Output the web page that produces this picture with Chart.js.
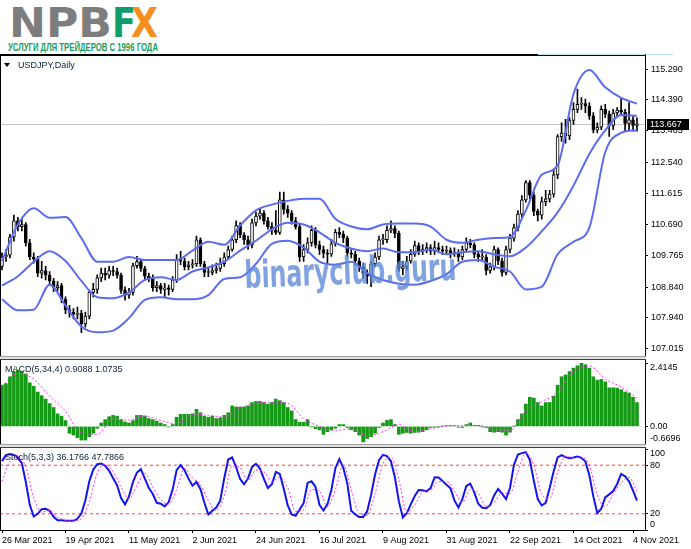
<!DOCTYPE html>
<html><head><meta charset="utf-8">
<script src="https://cdn.jsdelivr.net/npm/chart.js@4.4.0/dist/chart.umd.min.js"></script>
<style>
html,body{margin:0;padding:0;background:#fff;}
#wrap{position:relative;width:691px;height:549px;overflow:hidden;background:#fff;font-family:"Liberation Sans",Arial,sans-serif;}
canvas{position:absolute;left:0;}
.abs{position:absolute;}
.lbl{position:absolute;font-size:9px;color:#000;white-space:nowrap;line-height:10px;}
</style></head><body>
<div id="wrap">
<svg class="abs" style="left:0;top:0" width="200" height="54">
  <text x="9" y="37" font-family="DejaVu Sans" font-weight="bold" font-size="40" textLength="103" lengthAdjust="spacingAndGlyphs" fill="#7d7d7d">NPB</text>
  <text x="112" y="37" font-family="DejaVu Sans" font-weight="bold" font-size="40" textLength="24" lengthAdjust="spacingAndGlyphs" fill="#0f9d6b">F</text>
  <text x="131" y="37" font-family="DejaVu Sans" font-weight="bold" font-size="40" textLength="27" lengthAdjust="spacingAndGlyphs" fill="#f5901e">X</text>
  <text x="8" y="50.5" font-family="Liberation Sans" font-weight="bold" font-size="11" textLength="150" lengthAdjust="spacingAndGlyphs" fill="#149c62">УСЛУГИ ДЛЯ ТРЕЙДЕРОВ С 1996 ГОДА</text>
</svg>
<canvas id="cMain" style="top:55px;width:691px;height:304px" width="691" height="304"></canvas>
<canvas id="cMacd" style="top:363px;width:691px;height:81px" width="691" height="81"></canvas>
<canvas id="cStoch" style="top:449px;width:691px;height:100px" width="691" height="100"></canvas>
<div class="abs" style="left:0;top:54px;width:646px;height:2px;background:#000"></div>
<div class="abs" style="left:538px;top:54px;width:135px;height:1px;background:#bfe3ef"></div>
<div class="abs" style="left:0;top:54px;width:1px;height:476px;background:#000"></div>
<div class="abs" style="left:645px;top:54px;width:1px;height:476px;background:#000"></div>
<div class="abs" style="left:0;top:356px;width:646px;height:1px;background:#a0a0a0"></div>
<div class="abs" style="left:0;top:357px;width:646px;height:2px;background:#e0e0e0"></div>
<div class="abs" style="left:0;top:359px;width:646px;height:1px;background:#404040"></div>
<div class="abs" style="left:0;top:444px;width:646px;height:1px;background:#a0a0a0"></div>
<div class="abs" style="left:0;top:445px;width:646px;height:2px;background:#e0e0e0"></div>
<div class="abs" style="left:0;top:447px;width:646px;height:1px;background:#404040"></div>
<div class="abs" style="left:4px;top:63px;width:0;height:0;border-left:3.5px solid transparent;border-right:3.5px solid transparent;border-top:4px solid #000"></div>
<div class="lbl" id="tMain" style="left:18px;top:60px;color:#0d1f33">USDJPY,Daily</div>
<div class="lbl" id="tMacd" style="left:5px;top:364px;color:#0d1f33"></div>
<div class="lbl" id="tStoch" style="left:5px;top:452px;color:#0d1f33"></div>
<svg class="abs" style="left:0;top:0;pointer-events:none" width="691" height="549">
  <text x="245" y="288" transform="rotate(-2.2 245 288)" font-family="DejaVu Sans" font-weight="bold" font-size="38" textLength="212" lengthAdjust="spacingAndGlyphs" fill="#5e88d8" fill-opacity="0.78">binaryclub.guru</text>
</svg>
</div>
<script>
// ---- data ----
const dateIdx = [0,16,32,48,64,80,96,112,128,144,159];
const dateLabels = ['26 Mar 2021','19 Apr 2021','11 May 2021','2 Jun 2021','24 Jun 2021','16 Jul 2021','9 Aug 2021','31 Aug 2021','22 Sep 2021','14 Oct 2021','4 Nov 2021'];
const priceTicks = [107.015,107.940,108.840,109.765,110.690,111.615,112.540,113.465,114.390,115.290];

const opens = [109.45,109.73,109.78,110.32,110.80,110.63,110.69,110.15,109.73,109.67,
109.25,109.33,109.19,109.02,108.82,108.88,108.48,108.17,108.09,108.03,
108.06,107.75,107.98,108.68,108.77,109.11,109.25,109.19,109.33,109.30,
109.19,108.74,108.60,108.68,109.47,109.59,109.39,109.16,109.11,108.82,
108.88,108.77,108.82,108.77,109.05,109.67,109.61,109.44,109.50,109.53,
110.24,109.53,109.27,109.27,109.33,109.39,109.53,109.73,109.95,110.24,
110.66,110.38,110.24,110.09,110.74,110.94,111.03,110.80,110.63,110.52,
110.46,111.42,111.14,111.03,110.80,110.63,109.73,109.95,110.15,110.52,
110.09,109.95,109.84,109.81,110.12,110.46,110.40,110.29,109.84,109.81,
109.61,109.44,109.25,109.16,109.53,109.73,110.24,110.24,110.52,110.57,
110.43,109.39,109.44,109.61,109.81,110.07,109.90,109.95,110.01,109.90,
110.01,109.95,109.90,109.92,109.84,109.87,109.73,109.95,110.15,110.09,
109.81,109.73,109.73,109.33,109.44,109.95,109.61,109.27,109.95,110.29,
110.60,111.00,111.42,111.93,111.56,111.08,110.97,111.37,111.45,111.59,
112.16,113.29,113.40,113.31,113.77,114.10,114.25,114.27,114.19,113.91,
113.48,113.57,114.10,113.96,113.62,113.99,114.08,114.02,113.68,113.79,
113.62];
const closes = [109.73,109.78,110.32,110.80,110.63,110.69,110.15,109.73,109.67,109.25,
109.33,109.19,109.02,108.82,108.88,108.48,108.17,108.09,108.03,108.06,
107.75,107.98,108.68,108.77,109.11,109.25,109.19,109.33,109.30,109.19,
108.74,108.60,108.68,109.47,109.59,109.39,109.16,109.11,108.82,108.88,
108.77,108.82,108.77,109.05,109.67,109.61,109.44,109.50,109.53,110.24,
109.53,109.27,109.27,109.33,109.39,109.53,109.73,109.95,110.24,110.66,
110.38,110.24,110.09,110.74,110.94,111.03,110.80,110.63,110.52,110.46,
111.42,111.14,111.03,110.80,110.63,109.73,109.95,110.15,110.52,110.09,
109.95,109.84,109.81,110.12,110.46,110.40,110.29,109.84,109.81,109.61,
109.44,109.25,109.16,109.53,109.73,110.24,110.24,110.52,110.57,110.43,
109.39,109.44,109.61,109.81,110.07,109.90,109.95,110.01,109.90,110.01,
109.95,109.90,109.92,109.84,109.87,109.73,109.95,110.15,110.09,109.81,
109.73,109.73,109.33,109.44,109.95,109.61,109.27,109.95,110.29,110.60,
111.00,111.42,111.93,111.56,111.08,110.97,111.37,111.45,111.59,112.16,
113.29,113.40,113.31,113.77,114.10,114.25,114.27,114.19,113.91,113.48,
113.57,114.10,113.96,113.62,113.99,114.08,114.02,113.68,113.79,113.62,
113.667];
const highs = [109.85,109.95,110.40,110.97,110.90,110.85,110.75,110.25,109.85,109.75,
109.60,109.45,109.30,109.10,109.00,108.95,108.55,108.30,108.20,108.25,
108.15,108.10,108.75,108.95,109.20,109.40,109.40,109.45,109.45,109.40,
109.25,108.85,108.80,109.55,109.75,109.65,109.45,109.25,109.20,109.00,
108.95,108.95,108.90,109.15,109.80,109.90,109.70,109.60,109.65,110.35,
110.30,109.60,109.40,109.50,109.55,109.70,109.85,110.05,110.35,110.80,
110.75,110.45,110.35,110.85,111.05,111.15,111.10,110.90,110.75,111.10,
111.65,111.65,111.25,111.10,110.90,110.70,110.10,110.30,110.65,110.60,
110.20,110.05,109.95,110.25,110.55,110.60,110.50,110.35,109.95,109.90,
109.70,109.55,109.35,109.60,109.85,110.35,110.40,110.65,110.80,110.65,
110.50,109.60,109.75,109.95,110.20,110.15,110.10,110.15,110.10,110.20,
110.15,110.05,110.05,110.00,110.00,109.95,110.05,110.30,110.25,110.15,
109.90,109.95,109.80,109.55,110.05,110.00,109.70,110.05,110.40,110.70,
111.10,111.55,111.99,111.99,111.65,111.15,111.50,111.70,111.70,112.30,
113.35,113.70,113.80,113.85,114.30,114.70,114.45,114.40,114.30,114.00,
113.70,114.20,114.25,114.05,114.10,114.15,114.45,114.10,114.30,113.90,
113.85];
const lows = [109.35,109.60,109.70,110.20,110.50,110.50,110.05,109.65,109.55,109.15,
109.10,109.05,108.90,108.70,108.72,108.38,108.05,107.95,107.90,107.90,
107.49,107.65,107.90,108.55,108.65,109.00,109.05,109.10,109.18,109.10,
108.65,108.45,108.50,108.60,109.40,109.30,109.05,109.00,108.72,108.70,
108.65,108.55,108.60,108.70,108.98,109.50,109.35,109.35,109.40,109.45,
109.45,109.15,109.15,109.20,109.25,109.30,109.45,109.65,109.90,110.15,
110.30,110.10,109.95,110.00,110.65,110.85,110.70,110.55,110.40,110.40,
110.40,111.00,110.90,110.70,110.55,109.60,109.60,109.85,110.05,110.00,
109.80,109.70,109.55,109.75,110.05,110.30,110.15,109.75,109.70,109.50,
109.30,109.10,108.95,108.85,109.45,109.65,110.10,110.15,110.45,110.30,
109.30,109.20,109.35,109.55,109.75,109.80,109.80,109.85,109.80,109.80,
109.85,109.80,109.80,109.70,109.75,109.60,109.65,109.90,110.00,109.70,
109.60,109.60,109.20,109.25,109.35,109.50,109.16,109.20,109.85,110.20,
110.50,110.90,111.35,111.45,110.95,110.80,110.85,111.25,111.35,111.50,
112.05,113.15,113.10,113.20,113.65,114.00,114.10,114.00,113.80,113.40,
113.40,113.50,113.85,113.30,113.50,113.90,113.95,113.45,113.50,113.45,
113.45];
// Bollinger bands, one reading every 4th bar
const bbUpper = [109.61,110.69,111.17,110.89,110.91,110.29,109.59,109.59,109.73,109.64,109.64,109.64,109.92,110.18,110.09,110.66,111.11,111.28,111.39,111.45,111.45,110.86,110.63,110.55,110.69,110.72,110.72,110.63,110.24,110.15,110.24,110.29,110.32,111.11,112.16,112.44,114.55,115.26,114.75,114.44,114.27];
const bbMiddle = [108.88,109.16,109.59,109.90,109.61,109.02,108.54,108.51,108.68,109.05,109.13,109.05,109.30,109.42,109.59,109.92,110.21,110.55,110.74,110.69,110.46,110.15,109.98,109.90,109.98,109.87,109.87,109.95,109.81,109.87,109.90,109.81,109.75,110.01,110.49,111.05,111.84,112.78,113.48,113.93,113.91];
const bbLower = [108.48,108.15,108.17,108.91,108.29,107.67,107.50,107.55,107.92,108.46,108.54,108.48,108.48,108.60,109.08,109.13,109.53,110.12,110.21,110.01,109.59,109.50,109.59,109.25,109.05,108.94,108.91,109.02,109.22,109.59,109.64,109.44,109.30,108.77,108.85,109.81,110.18,110.60,112.83,113.40,113.48];
const BB_STEP = 4;

const macd = [1.57,1.63,1.89,2.09,2.13,2.09,2.00,1.66,1.53,1.31,
1.17,1.04,0.87,0.72,0.48,0.39,0.22,-0.26,-0.33,-0.43,
-0.52,-0.52,-0.39,-0.26,-0.07,0.13,0.26,0.37,0.42,0.39,
0.26,0.17,0.13,0.22,0.42,0.42,0.39,0.30,0.26,0.20,
0.13,0.07,-0.02,0.07,0.35,0.46,0.46,0.46,0.48,0.65,
0.52,0.39,0.35,0.39,0.30,0.33,0.42,0.52,0.78,0.74,
0.74,0.74,0.78,0.91,0.95,0.95,0.91,0.85,0.91,1.04,
0.98,0.91,0.72,0.59,0.26,0.16,0.16,0.26,-0.01,-0.09,
-0.13,-0.30,-0.20,-0.13,-0.07,0.07,0.07,-0.04,-0.13,-0.20,
-0.33,-0.59,-0.46,-0.39,-0.26,-0.04,0.13,0.23,0.26,0.07,
-0.30,-0.26,-0.23,-0.26,-0.23,-0.22,-0.20,-0.13,-0.04,-0.03,
-0.01,0.01,0.03,0.03,0.03,-0.03,-0.04,0.07,0.13,0.04,
0.04,-0.01,-0.04,-0.20,-0.22,-0.20,-0.22,-0.33,-0.22,0.01,
0.26,0.48,0.85,1.11,1.08,0.91,0.78,0.91,0.91,1.15,
1.57,1.89,1.96,2.09,2.22,2.31,2.4145,2.35,2.22,1.89,
1.76,1.79,1.70,1.47,1.47,1.46,1.40,1.31,1.27,1.11,
0.9088];
// MACD signal, one reading every 4th bar
const macdSignal = [1.53,2.02,1.80,1.15,0.58,-0.25,-0.30,0.28,0.24,0.40,0.22,0.10,0.47,0.42,0.36,0.70,0.88,0.92,0.88,0.30,0.00,-0.15,-0.10,-0.36,-0.20,0.07,-0.21,-0.09,0.01,0.03,0.04,-0.12,-0.15,0.60,0.94,1.30,2.10,2.30,1.80,1.50,1.0735];
const MACD_STEP = 4;
const macdTicks = [2.4145, 0, -0.6696];
const macdTickText = ['2.4145','0.00','-0.6696'];

const stochMain = [85.0,92.4,93.7,92.8,89.1,82.5,59.3,31.1,16.7,20.0,
25.8,26.2,23.7,16.2,12.1,12.1,11.3,11.3,11.3,13.8,
20.4,36.5,60.1,74.6,81.2,82.1,79.2,73.0,63.9,55.2,
39.4,31.6,41.5,59.3,70.9,75.0,63.4,51.8,44.4,33.6,
32.4,29.1,34.5,50.2,73.8,80.0,73.8,63.4,54.7,59.3,
50.6,33.6,19.1,23.7,27.8,36.5,63.9,87.0,89.5,77.5,
63.0,56.4,63.9,77.9,81.7,75.9,63.0,51.8,56.4,71.7,
69.2,51.0,30.3,19.1,17.5,25.4,33.2,58.1,60.1,53.1,
31.1,24.1,31.6,49.8,76.3,87.5,76.7,
57.6,23.7,19.1,16.2,16.2,22.9,43.2,68.4,86.2,92.8,
91.2,85.0,65.1,35.3,15.4,20.8,31.6,41.9,49.4,49.0,
47.7,51.8,65.1,64.7,60.5,56.0,51.4,36.5,27.8,38.2,
54.3,57.2,46.5,32.4,27.4,27.0,30.7,42.7,50.6,44.8,
38.2,51.8,80.4,93.2,94.9,96.1,86.2,61.0,38.2,30.3,
33.6,51.8,72.1,89.5,92.4,89.9,88.7,89.5,90.8,89.1,
84.6,67.6,41.5,20.8,26.2,40.3,44.0,48.1,56.8,69.2,
66.3,60.1,48.5,36.1766];
// Stochastic signal, one reading every 2nd bar
const stochSignal = [60,85,91,78,40,22,24,16,12,11,
14,35,70,81,72,53,38,55,70,53,
37,32,50,76,64,56,36,24,42,79,
77,61,74,72,60,65,52,23,25,50,
48,29,50,80,50,20,18,45,82,90,
62,22,31,47,49,60,60,48,34,50,
46,29,34,46,45,72,95,80,44,39,
71,91,89,90,80,43,29,44,58,65,
47.7866];
const STOCH_STEP = 2;
const stochLevels = [80, 20];
const stochTicks = [100, 80, 20, 0];

// ---- charts ----
Chart.defaults.font.family = '"Liberation Sans", Arial, sans-serif';
Chart.defaults.font.size = 9;
Chart.defaults.color = '#000';
const X_MIN = -0.504, X_MAX = 162.02;
const BB_COLOR = '#5b6cf0';

const baseOpts = () => ({
  responsive:false, animation:false, events:[],
  plugins:{legend:{display:false}, tooltip:{enabled:false}},
  layout:{padding:0},
});
const xHidden = {type:'linear', min:X_MIN, max:X_MAX, offset:false, display:false};

const insetLabels = {
  id:'insetLabels',
  afterDraw(chart, args, opts){
    if(!opts || !opts.items) return;
    const s = chart.scales.y, a = chart.chartArea, ctx = chart.ctx;
    ctx.save();
    ctx.font = '9px "Liberation Sans", Arial, sans-serif';
    ctx.fillStyle = '#000'; ctx.textBaseline = 'middle'; ctx.textAlign = 'left';
    opts.items.forEach(([v,t]) => {
      let py = s.getPixelForValue(v);
      py = Math.min(Math.max(py, a.top + 5), a.bottom - 5);
      ctx.fillText(t, a.right + 5, py);
    });
    ctx.restore();
  }
};

const lastClose = closes[closes.length-1];
const priceLine = {
  id:'priceLine',
  beforeDatasetsDraw(chart){
    const a = chart.chartArea, ctx = chart.ctx;
    const py = Math.round(chart.scales.y.getPixelForValue(lastClose)) + 0.5;
    ctx.save(); ctx.strokeStyle = '#c4c4c4'; ctx.lineWidth = 1;
    ctx.beginPath(); ctx.moveTo(a.left, py); ctx.lineTo(a.right, py); ctx.stroke();
    ctx.restore();
  },
  afterDraw(chart){
    const a = chart.chartArea, ctx = chart.ctx;
    const py = chart.scales.y.getPixelForValue(lastClose);
    ctx.save();
    ctx.fillStyle = '#000';
    ctx.fillRect(a.right + 2, Math.round(py) - 5, 42, 11);
    ctx.fillStyle = '#fff';
    ctx.font = '9px "Liberation Sans", Arial, sans-serif';
    ctx.textBaseline = 'middle'; ctx.textAlign = 'left';
    ctx.fillText(lastClose.toFixed(3), a.right + 5, Math.round(py) + 0.5);
    ctx.restore();
  }
};

new Chart(document.getElementById('cMain'), {
  type:'bar',
  data:{datasets:[
    {type:'line', data:bbUpper.map((v,k)=>({x:k*BB_STEP,y:v})), borderColor:BB_COLOR, borderWidth:2, pointRadius:0, cubicInterpolationMode:'monotone', order:0},
    {type:'line', data:bbMiddle.map((v,k)=>({x:k*BB_STEP,y:v})), borderColor:BB_COLOR, borderWidth:2, pointRadius:0, cubicInterpolationMode:'monotone', order:0},
    {type:'line', data:bbLower.map((v,k)=>({x:k*BB_STEP,y:v})), borderColor:BB_COLOR, borderWidth:2, pointRadius:0, cubicInterpolationMode:'monotone', order:0},
    {type:'bar', data:closes.map((c,i)=>({x:i,y:[opens[i],c]})), backgroundColor:closes.map((c,i)=>c>=opens[i]?'#ffffff':'#000000'), borderColor:'#000', borderWidth:1, borderSkipped:false, barThickness:3, minBarLength:1, grouped:false, order:1},
    {type:'bar', data:closes.map((c,i)=>({x:i,y:[lows[i],highs[i]]})), backgroundColor:'#000', barThickness:1, grouped:false, order:2},
  ]},
  options:Object.assign(baseOpts(), {
    layout:{padding:{bottom:3}},
    scales:{
      x:xHidden,
      y:{type:'linear', position:'right', min:106.959, max:115.459,
        afterBuildTicks:s=>{s.ticks = priceTicks.map(v=>({value:v}));},
        afterFit:s=>{s.width = 46;},
        ticks:{callback:v=>Number(v).toFixed(3), padding:3, autoSkip:false, color:'#000', font:{size:9}},
        grid:{drawOnChartArea:false, drawTicks:true, tickLength:3, color:'#000'},
        border:{display:true, color:'#000'}}
    }
  }),
  plugins:[priceLine]
});

new Chart(document.getElementById('cMacd'), {
  type:'bar',
  data:{datasets:[
    {type:'line', data:macdSignal.map((v,k)=>({x:k*MACD_STEP,y:v})), borderColor:'#ff30ff', borderWidth:1, borderDash:[2,2], pointRadius:0, cubicInterpolationMode:'monotone', order:0},
    {type:'bar', data:macd.map((v,i)=>({x:i,y:v})), backgroundColor:'#149a14', barThickness:3, grouped:false, order:1},
  ]},
  options:Object.assign(baseOpts(), {
    plugins:{legend:{display:false}, tooltip:{enabled:false}, insetLabels:{items:macdTicks.map((v,i)=>[v,macdTickText[i]])}},
    scales:{
      x:xHidden,
      y:{type:'linear', position:'right', min:-0.6696, max:2.4145,
        afterBuildTicks:s=>{s.ticks = macdTicks.map(v=>({value:v}));},
        afterFit:s=>{s.width = 46;},
        ticks:{display:false},
        grid:{drawOnChartArea:false, drawTicks:true, tickLength:3, color:'#000'},
        border:{display:true, color:'#000'}}
    }
  }),
  plugins:[insetLabels]
});

new Chart(document.getElementById('cStoch'), {
  type:'line',
  data:{datasets:[
    ...stochLevels.map(l=>({type:'line', data:[{x:X_MIN,y:l},{x:X_MAX,y:l}], borderColor:'#ff4040', borderWidth:1, borderDash:[3,3], pointRadius:0, order:3})),
    {type:'line', data:stochMain.map((v,i)=>({x:i,y:v})), borderColor:'#1414f0', borderWidth:2, pointRadius:0, tension:0, order:2},
    {type:'line', data:stochSignal.map((v,k)=>({x:k*STOCH_STEP,y:v})), borderColor:'#ff30ff', borderWidth:1, borderDash:[2,2], pointRadius:0, cubicInterpolationMode:'monotone', order:1},
  ]},
  options:Object.assign(baseOpts(), {
    plugins:{legend:{display:false}, tooltip:{enabled:false}, insetLabels:{items:stochTicks.map(v=>[v,String(v)])}},
    scales:{
      x:{type:'linear', min:X_MIN, max:X_MAX, offset:false, position:'bottom',
        afterBuildTicks:s=>{s.ticks = dateIdx.map(v=>({value:v}));},
        afterFit:s=>{s.height = 19;},
        ticks:{callback:(v,i)=>dateLabels[i], align:'start', autoSkip:false, maxRotation:0, minRotation:0, padding:2, color:'#000', font:{size:9}},
        grid:{drawOnChartArea:false, drawTicks:true, tickLength:3, color:'#000'},
        border:{display:true, color:'#000'}},
      y:{type:'linear', position:'right', min:0, max:100,
        afterBuildTicks:s=>{s.ticks = stochTicks.map(v=>({value:v}));},
        afterFit:s=>{s.width = 46;},
        ticks:{display:false},
        grid:{drawOnChartArea:false, drawTicks:true, tickLength:3, color:'#000'},
        border:{display:true, color:'#000'}}
    }
  }),
  plugins:[insetLabels]
});

document.getElementById('tMacd').textContent = 'MACD(5,34,4) ' + macd[macd.length-1].toFixed(4) + ' ' + macdSignal[macdSignal.length-1].toFixed(4);
document.getElementById('tStoch').textContent = 'Stoch(5,3,3) ' + stochMain[stochMain.length-1].toFixed(4) + ' ' + stochSignal[stochSignal.length-1].toFixed(4);
</script>
</body></html>
